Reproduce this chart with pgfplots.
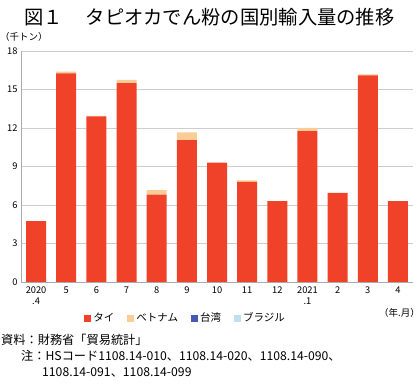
\documentclass[border=0pt]{standalone}
\usepackage{fontspec}
\setmainfont{Noto Sans CJK JP}
\usepackage{pgfplots}
\pgfplotsset{compat=1.18}
\definecolor{thai}{RGB}{239,66,40}
\definecolor{viet}{RGB}{250,204,150}
\definecolor{taiwan}{RGB}{70,90,180}
\definecolor{brazil}{RGB}{190,225,235}
\definecolor{gridc}{RGB}{205,205,205}
\definecolor{axc}{RGB}{170,170,170}
\begin{document}
\begin{tikzpicture}
\begin{axis}[
  name=a, scale only axis,
  width=392pt, height=231pt,
  ybar stacked, bar width=20pt,
  xmin=-0.5, xmax=12.5, ymin=0, ymax=18,
  ytick={0,3,...,18}, xtick={0,...,12},
  xticklabels={{2020\\.4},5,6,7,8,9,10,11,12,{2021\\.1},2,3,4},
  xticklabel style={align=center,font=\fontsize{9.3}{11.5}\selectfont,yshift=-1pt},
  yticklabel style={font=\fontsize{9.3}{9}\selectfont},
  /pgf/number format/assume math mode=true,
  ymajorgrids, grid style={gridc,line width=0.8pt},
  axis x line*=bottom, axis y line*=left,
  axis line style={axc,line width=0.8pt},
  tick style={draw=none},
  every outer x axis line/.append style={-},
  every outer y axis line/.append style={-},
  legend columns=4,
  legend style={at={(0.42,-0.156)},anchor=center,draw=none,fill=none,
    font=\fontsize{10.5}{11}\selectfont,
    /tikz/every even column/.append style={column sep=11pt}},
  legend image code/.code={\fill[#1] (0pt,-3.5pt) rectangle (7pt,3.5pt);},
  legend cell align=left,
]
\addplot[fill=thai,draw=none] coordinates {(0,4.75) (1,16.25) (2,12.9) (3,15.5) (4,6.8) (5,11.05) (6,9.3) (7,7.8) (8,6.3) (9,11.75) (10,6.95) (11,16.1) (12,6.3)};
\addplot[fill=viet,draw=none] coordinates {(0,0) (1,0.15) (2,0.05) (3,0.25) (4,0.35) (5,0.6) (6,0) (7,0.12) (8,0) (9,0.25) (10,0) (11,0.08) (12,0)};
\addplot[fill=taiwan,draw=none] coordinates {(0,0) (1,0) (2,0) (3,0) (4,0) (5,0) (6,0) (7,0) (8,0) (9,0) (10,0) (11,0) (12,0)};
\addplot[fill=brazil,draw=none] coordinates {(0,0) (1,0) (2,0) (3,0) (4,0) (5,0) (6,0) (7,0) (8,0) (9,0) (10,0) (11,0) (12,0)};
\legend{タイ,ベトナム,台湾,ブラジル}
\end{axis}
\coordinate (O) at ([xshift=-21pt,yshift=-105pt]a.south west);
\pgfresetboundingbox
\path (O) rectangle ++(420pt,387pt);
\begin{scope}[shift={(O)},x=1pt,y=1pt]
\node[anchor=west,inner sep=0pt,font=\fontsize{19.3}{19}\selectfont] at (24,370) {図１\hspace{23pt}タピオカでん粉の国別輸入量の推移};
\node[anchor=west,inner sep=0pt,font=\fontsize{9.5}{9}\selectfont] at (0,350) {（千トン）};
\node[anchor=east,inner sep=0pt,font=\fontsize{9.5}{9}\selectfont] at (420,74) {（年.月）};
\node[anchor=west,inner sep=0pt,font=\fontsize{12.2}{12}\selectfont] at (1,47) {資料：財務省「貿易統計」};
\node[anchor=west,inner sep=0pt,font=\fontsize{12.2}{12}\selectfont] at (21,31) {注：HSコード1108.14-010、1108.14-020、1108.14-090、};
\node[anchor=west,inner sep=0pt,font=\fontsize{12.2}{12}\selectfont] at (42,15) {1108.14-091、1108.14-099};
\end{scope}
\end{tikzpicture}
\end{document}
